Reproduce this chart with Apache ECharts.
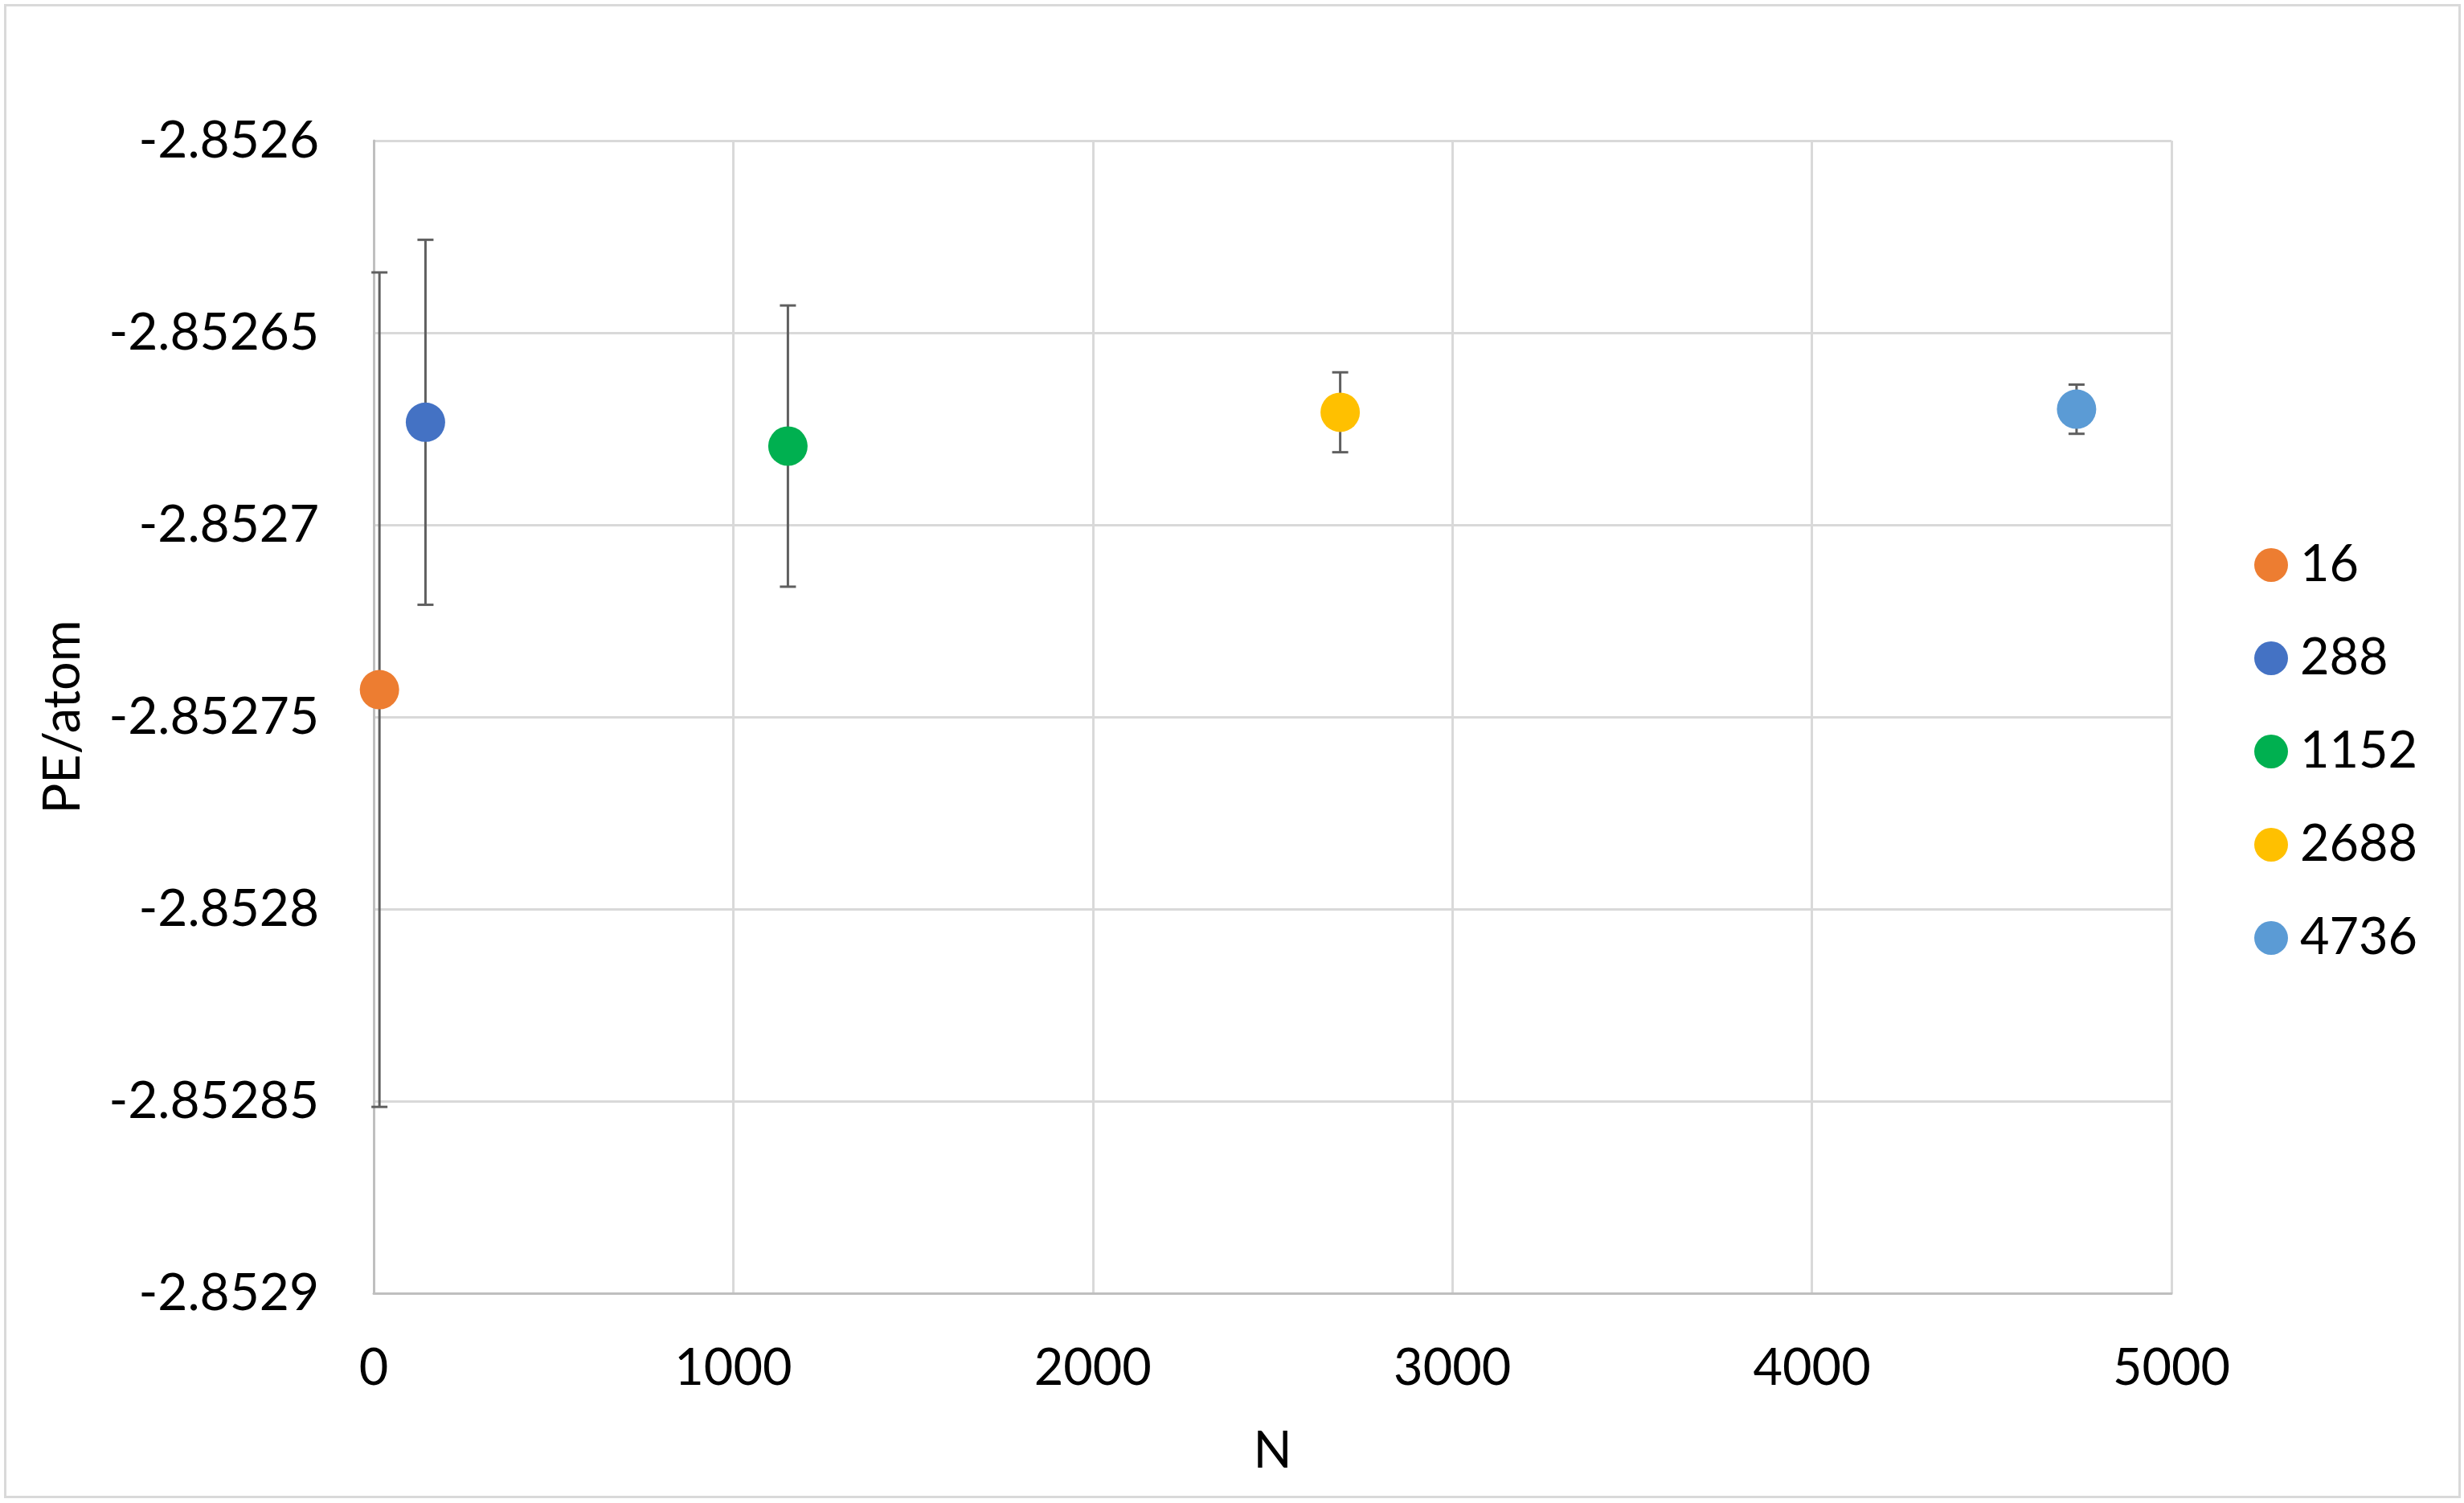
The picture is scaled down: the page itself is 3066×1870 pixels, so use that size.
<!DOCTYPE html>
<html>
<head>
<meta charset="utf-8">
<script src="https://cdn.jsdelivr.net/npm/echarts@6/dist/echarts.min.js"></script>
<style>
html,body{margin:0;padding:0;background:#fff;}
#chart{width:3066px;height:1870px;}
</style>
</head>
<body>
<div id="chart"></div>
<script>
// ---- data ----
const seriesNames = ['16', '288', '1152', '2688', '4736'];
const xValues = [16, 144, 1152, 2688, 4736];
const yValues = [-2.8527429, -2.8526733, -2.8526795, -2.8526707, -2.8526699];
const yErrors = [0.0001086, 0.0000475, 0.0000366, 0.0000104, 0.0000064];
const colors = ['#ED7D31', '#4472C4', '#00B050', '#FFC000', '#5B9BD5'];
const yTickLabels = ['-2.8529', '-2.85285', '-2.8528', '-2.85275', '-2.8527', '-2.85265', '-2.8526'];
const xTickLabels = ['0', '1000', '2000', '3000', '4000', '5000'];
const yMin = -2.8529, yMax = -2.8526, yInterval = 0.00005;
const xMin = 0, xMax = 5000, xInterval = 1000;

const FONT = 'Lato';
const chart = echarts.init(document.getElementById('chart'));

const errData = xValues.map((x, i) => [x, yValues[i] - yErrors[i], yValues[i] + yErrors[i]]);

const scatterSeries = seriesNames.map((name, i) => ({
  name: name,
  type: 'scatter',
  symbol: 'circle',
  symbolSize: 49,
  z: 5,
  itemStyle: {color: colors[i], opacity: 1},
  emphasis: {disabled: true},
  data: [[xValues[i], yValues[i]]]
}));

const option = {
  backgroundColor: '#fff',
  animation: false,
  graphic: [{
    type: 'rect',
    left: 4, top: 4,
    shape: {width: 3054, height: 1856},
    style: {fill: 'none', stroke: '#D9D9D9', lineWidth: 3},
    silent: true
  }],
  grid: {left: 465, right: 364, top: 175, bottom: 261, containLabel: false},
  legend: {
    orient: 'vertical',
    left: 2800,
    top: 663,
    itemWidth: 42,
    itemHeight: 42,
    itemGap: 46,
    icon: 'circle',
    data: seriesNames,
    textStyle: {fontFamily: FONT, fontSize: 63, color: '#000', lineHeight: 70, padding: [0, 0, 0, 10]}
  },
  xAxis: {
    type: 'value',
    min: xMin, max: xMax, interval: xInterval,
    name: 'N',
    nameLocation: 'middle',
    nameGap: 165,
    nameTextStyle: {fontFamily: FONT, fontSize: 63, color: '#000'},
    axisLine: {show: true, lineStyle: {color: '#BFBFBF', width: 3}},
    axisTick: {show: false},
    splitLine: {show: true, lineStyle: {color: '#D9D9D9', width: 3}},
    axisLabel: {
      fontFamily: FONT, fontSize: 63, color: '#000', margin: 62,
      formatter: v => xTickLabels[Math.round((v - xMin) / xInterval)]
    }
  },
  yAxis: {
    type: 'value',
    min: yMin, max: yMax, interval: yInterval,
    name: 'PE/atom',
    nameLocation: 'middle',
    nameGap: 355,
    nameRotate: 90,
    nameTextStyle: {fontFamily: FONT, fontSize: 63, color: '#000'},
    axisLine: {show: true, onZero: false, lineStyle: {color: '#BFBFBF', width: 3}},
    axisTick: {show: false},
    splitLine: {show: true, lineStyle: {color: '#D9D9D9', width: 3}},
    axisLabel: {
      fontFamily: FONT, fontSize: 64, color: '#000', margin: 68,
      formatter: v => yTickLabels[Math.round((v - yMin) / yInterval)]
    }
  },
  series: [{
    type: 'custom',
    name: 'err',
    z: 3,
    silent: true,
    data: errData,
    encode: {x: 0, y: [1, 2]},
    renderItem: function (params, api) {
      const x = api.value(0);
      const lo = api.coord([x, api.value(1)]);
      const hi = api.coord([x, api.value(2)]);
      const cap = 10;
      const st = {stroke: '#5F5F5F', lineWidth: 3};
      return {
        type: 'group',
        children: [
          {type: 'line', shape: {x1: lo[0], y1: lo[1], x2: hi[0], y2: hi[1]}, style: st},
          {type: 'line', shape: {x1: lo[0] - cap, y1: lo[1], x2: lo[0] + cap, y2: lo[1]}, style: st},
          {type: 'line', shape: {x1: hi[0] - cap, y1: hi[1], x2: hi[0] + cap, y2: hi[1]}, style: st}
        ]
      };
    }
  }].concat(scatterSeries)
};
chart.setOption(option);
</script>
</body>
</html>
